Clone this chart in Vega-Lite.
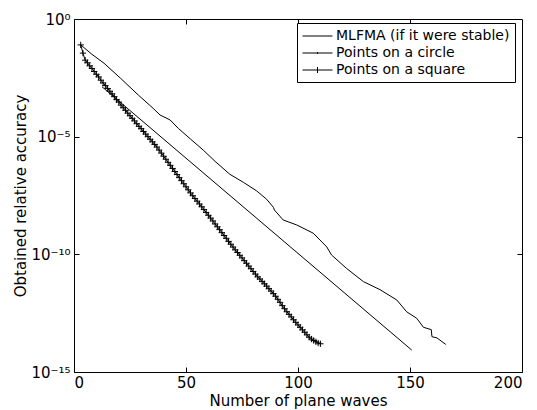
{
  "$schema": "https://vega.github.io/schema/vega-lite/v6.json",
  "width": 448,
  "height": 353,
  "autosize": {"type": "none"},
  "padding": {"left": 74, "top": 19, "right": 15, "bottom": 38},
  "background": "white",
  "config": {
    "view": {"stroke": "black", "strokeWidth": 1},
    "font": "DejaVu Sans",
    "axis": {
      "domain": false,
      "grid": false,
      "tickColor": "black",
      "tickWidth": 1,
      "labelColor": "black",
      "labelFont": "DejaVu Sans",
      "labelFontSize": 15,
      "titleFont": "DejaVu Sans",
      "titleFontSize": 15,
      "titleFontWeight": "normal",
      "titleColor": "black"
    },
    "legend": {
      "orient": "none",
      "legendX": 223,
      "legendY": 4,
      "strokeColor": "black",
      "fillColor": "white",
      "padding": 5,
      "cornerRadius": 0,
      "labelFont": "DejaVu Sans",
      "labelFontSize": 14,
      "labelColor": "black",
      "labelLimit": 400,
      "symbolSize": 225,
      "symbolStrokeColor": "black",
      "symbolStrokeWidth": 1,
      "symbolFillColor": "transparent",
      "symbolOpacity": 1,
      "labelOffset": 18,
      "rowPadding": 2
    }
  },
  "data": {
    "values": [
      {"series": "MLFMA (if it were stable)", "waves": 12.5, "accuracy": 1.32e-3},
      {"series": "MLFMA (if it were stable)", "waves": 150.8, "accuracy": 8.51e-15},

      {"series": "Points on a circle", "waves": 3, "accuracy": 7.94e-2},
      {"series": "Points on a circle", "waves": 8, "accuracy": 3.16e-2},
      {"series": "Points on a circle", "waves": 13.4, "accuracy": 1.32e-2},
      {"series": "Points on a circle", "waves": 20.8, "accuracy": 3.02e-3},
      {"series": "Points on a circle", "waves": 28.7, "accuracy": 5.89e-4},
      {"series": "Points on a circle", "waves": 35.4, "accuracy": 1.58e-4},
      {"series": "Points on a circle", "waves": 38.4, "accuracy": 8.32e-5},
      {"series": "Points on a circle", "waves": 42.9, "accuracy": 5.13e-5},
      {"series": "Points on a circle", "waves": 46.6, "accuracy": 2.24e-5},
      {"series": "Points on a circle", "waves": 52, "accuracy": 7.94e-6},
      {"series": "Points on a circle", "waves": 57.7, "accuracy": 2.69e-6},
      {"series": "Points on a circle", "waves": 63, "accuracy": 8.91e-7},
      {"series": "Points on a circle", "waves": 69.6, "accuracy": 2.51e-7},
      {"series": "Points on a circle", "waves": 75.6, "accuracy": 1.15e-7},
      {"series": "Points on a circle", "waves": 81.5, "accuracy": 5.01e-8},
      {"series": "Points on a circle", "waves": 86, "accuracy": 2.19e-8},
      {"series": "Points on a circle", "waves": 89, "accuracy": 1e-8},
      {"series": "Points on a circle", "waves": 89.5, "accuracy": 7.59e-9},
      {"series": "Points on a circle", "waves": 93.4, "accuracy": 2.88e-9},
      {"series": "Points on a circle", "waves": 99.4, "accuracy": 1.78e-9},
      {"series": "Points on a circle", "waves": 106.8, "accuracy": 7.94e-10},
      {"series": "Points on a circle", "waves": 112.8, "accuracy": 2.09e-10},
      {"series": "Points on a circle", "waves": 115, "accuracy": 9.33e-11},
      {"series": "Points on a circle", "waves": 121.7, "accuracy": 2.51e-11},
      {"series": "Points on a circle", "waves": 129.2, "accuracy": 6.92e-12},
      {"series": "Points on a circle", "waves": 136.6, "accuracy": 3.16e-12},
      {"series": "Points on a circle", "waves": 144.1, "accuracy": 1.15e-12},
      {"series": "Points on a circle", "waves": 148.5, "accuracy": 3.63e-13},
      {"series": "Points on a circle", "waves": 153, "accuracy": 1.91e-13},
      {"series": "Points on a circle", "waves": 156, "accuracy": 7.94e-14},
      {"series": "Points on a circle", "waves": 159.5, "accuracy": 6.31e-14},
      {"series": "Points on a circle", "waves": 159.8, "accuracy": 3.16e-14},
      {"series": "Points on a circle", "waves": 162, "accuracy": 2.82e-14},
      {"series": "Points on a circle", "waves": 166, "accuracy": 1.48e-14},

      {"series": "Points on a square", "waves": 3, "accuracy": 7.94e-2},
      {"series": "Points on a square", "waves": 4, "accuracy": 3.55e-2},
      {"series": "Points on a square", "waves": 5, "accuracy": 1.78e-2},
      {"series": "Points on a square", "waves": 6, "accuracy": 1.38e-2},
      {"series": "Points on a square", "waves": 7, "accuracy": 1.02e-2},
      {"series": "Points on a square", "waves": 8, "accuracy": 7.94e-3},
      {"series": "Points on a square", "waves": 9, "accuracy": 5.89e-3},
      {"series": "Points on a square", "waves": 10, "accuracy": 4.47e-3},
      {"series": "Points on a square", "waves": 11, "accuracy": 3.47e-3},
      {"series": "Points on a square", "waves": 12, "accuracy": 2.51e-3},
      {"series": "Points on a square", "waves": 13, "accuracy": 1.91e-3},
      {"series": "Points on a square", "waves": 14, "accuracy": 1.48e-3},
      {"series": "Points on a square", "waves": 15, "accuracy": 1.12e-3},
      {"series": "Points on a square", "waves": 16, "accuracy": 8.51e-4},
      {"series": "Points on a square", "waves": 17, "accuracy": 6.61e-4},
      {"series": "Points on a square", "waves": 18, "accuracy": 5.01e-4},
      {"series": "Points on a square", "waves": 19, "accuracy": 3.72e-4},
      {"series": "Points on a square", "waves": 20, "accuracy": 2.95e-4},
      {"series": "Points on a square", "waves": 21, "accuracy": 2.19e-4},
      {"series": "Points on a square", "waves": 22, "accuracy": 1.70e-4},
      {"series": "Points on a square", "waves": 23, "accuracy": 1.32e-4},
      {"series": "Points on a square", "waves": 24, "accuracy": 1.0e-4},
      {"series": "Points on a square", "waves": 25, "accuracy": 7.76e-5},
      {"series": "Points on a square", "waves": 26, "accuracy": 6.03e-5},
      {"series": "Points on a square", "waves": 27, "accuracy": 4.68e-5},
      {"series": "Points on a square", "waves": 28, "accuracy": 3.55e-5},
      {"series": "Points on a square", "waves": 29, "accuracy": 2.75e-5},
      {"series": "Points on a square", "waves": 30, "accuracy": 2.19e-5},
      {"series": "Points on a square", "waves": 31, "accuracy": 1.66e-5},
      {"series": "Points on a square", "waves": 32, "accuracy": 1.29e-5},
      {"series": "Points on a square", "waves": 33, "accuracy": 1.0e-5},
      {"series": "Points on a square", "waves": 34, "accuracy": 7.76e-6},
      {"series": "Points on a square", "waves": 35, "accuracy": 6.03e-6},
      {"series": "Points on a square", "waves": 36, "accuracy": 4.68e-6},
      {"series": "Points on a square", "waves": 37, "accuracy": 3.63e-6},
      {"series": "Points on a square", "waves": 38, "accuracy": 2.69e-6},
      {"series": "Points on a square", "waves": 39, "accuracy": 2.0e-6},
      {"series": "Points on a square", "waves": 40, "accuracy": 1.48e-6},
      {"series": "Points on a square", "waves": 41, "accuracy": 1.10e-6},
      {"series": "Points on a square", "waves": 42, "accuracy": 8.13e-7},
      {"series": "Points on a square", "waves": 43, "accuracy": 6.03e-7},
      {"series": "Points on a square", "waves": 44, "accuracy": 4.47e-7},
      {"series": "Points on a square", "waves": 45, "accuracy": 3.31e-7},
      {"series": "Points on a square", "waves": 46, "accuracy": 2.45e-7},
      {"series": "Points on a square", "waves": 47, "accuracy": 1.82e-7},
      {"series": "Points on a square", "waves": 48, "accuracy": 1.35e-7},
      {"series": "Points on a square", "waves": 49, "accuracy": 1.0e-7},
      {"series": "Points on a square", "waves": 50, "accuracy": 7.41e-8},
      {"series": "Points on a square", "waves": 51, "accuracy": 5.50e-8},
      {"series": "Points on a square", "waves": 52, "accuracy": 4.07e-8},
      {"series": "Points on a square", "waves": 53, "accuracy": 3.09e-8},
      {"series": "Points on a square", "waves": 54, "accuracy": 2.34e-8},
      {"series": "Points on a square", "waves": 55, "accuracy": 1.82e-8},
      {"series": "Points on a square", "waves": 56, "accuracy": 1.38e-8},
      {"series": "Points on a square", "waves": 57, "accuracy": 1.05e-8},
      {"series": "Points on a square", "waves": 58, "accuracy": 7.94e-9},
      {"series": "Points on a square", "waves": 59, "accuracy": 6.03e-9},
      {"series": "Points on a square", "waves": 60, "accuracy": 4.57e-9},
      {"series": "Points on a square", "waves": 61, "accuracy": 3.47e-9},
      {"series": "Points on a square", "waves": 62, "accuracy": 2.63e-9},
      {"series": "Points on a square", "waves": 63, "accuracy": 1.95e-9},
      {"series": "Points on a square", "waves": 64, "accuracy": 1.48e-9},
      {"series": "Points on a square", "waves": 65, "accuracy": 1.12e-9},
      {"series": "Points on a square", "waves": 66, "accuracy": 8.32e-10},
      {"series": "Points on a square", "waves": 67, "accuracy": 6.31e-10},
      {"series": "Points on a square", "waves": 68, "accuracy": 4.79e-10},
      {"series": "Points on a square", "waves": 69, "accuracy": 3.55e-10},
      {"series": "Points on a square", "waves": 70, "accuracy": 2.69e-10},
      {"series": "Points on a square", "waves": 71, "accuracy": 2.04e-10},
      {"series": "Points on a square", "waves": 72, "accuracy": 1.55e-10},
      {"series": "Points on a square", "waves": 73, "accuracy": 1.20e-10},
      {"series": "Points on a square", "waves": 74, "accuracy": 9.12e-11},
      {"series": "Points on a square", "waves": 75, "accuracy": 7.08e-11},
      {"series": "Points on a square", "waves": 76, "accuracy": 5.37e-11},
      {"series": "Points on a square", "waves": 77, "accuracy": 4.17e-11},
      {"series": "Points on a square", "waves": 78, "accuracy": 3.16e-11},
      {"series": "Points on a square", "waves": 79, "accuracy": 2.45e-11},
      {"series": "Points on a square", "waves": 80, "accuracy": 1.86e-11},
      {"series": "Points on a square", "waves": 81, "accuracy": 1.45e-11},
      {"series": "Points on a square", "waves": 82, "accuracy": 1.10e-11},
      {"series": "Points on a square", "waves": 83, "accuracy": 8.91e-12},
      {"series": "Points on a square", "waves": 84, "accuracy": 7.08e-12},
      {"series": "Points on a square", "waves": 85, "accuracy": 5.62e-12},
      {"series": "Points on a square", "waves": 86, "accuracy": 4.47e-12},
      {"series": "Points on a square", "waves": 87, "accuracy": 3.47e-12},
      {"series": "Points on a square", "waves": 88, "accuracy": 2.75e-12},
      {"series": "Points on a square", "waves": 89, "accuracy": 2.14e-12},
      {"series": "Points on a square", "waves": 90, "accuracy": 1.66e-12},
      {"series": "Points on a square", "waves": 91, "accuracy": 1.23e-12},
      {"series": "Points on a square", "waves": 92, "accuracy": 9.12e-13},
      {"series": "Points on a square", "waves": 93, "accuracy": 6.61e-13},
      {"series": "Points on a square", "waves": 94, "accuracy": 4.90e-13},
      {"series": "Points on a square", "waves": 95, "accuracy": 3.63e-13},
      {"series": "Points on a square", "waves": 96, "accuracy": 2.82e-13},
      {"series": "Points on a square", "waves": 97, "accuracy": 2.19e-13},
      {"series": "Points on a square", "waves": 98, "accuracy": 1.66e-13},
      {"series": "Points on a square", "waves": 99, "accuracy": 1.29e-13},
      {"series": "Points on a square", "waves": 100, "accuracy": 1.0e-13},
      {"series": "Points on a square", "waves": 101, "accuracy": 7.94e-14},
      {"series": "Points on a square", "waves": 102, "accuracy": 6.17e-14},
      {"series": "Points on a square", "waves": 103, "accuracy": 4.90e-14},
      {"series": "Points on a square", "waves": 104, "accuracy": 3.80e-14},
      {"series": "Points on a square", "waves": 105, "accuracy": 3.02e-14},
      {"series": "Points on a square", "waves": 106, "accuracy": 2.51e-14},
      {"series": "Points on a square", "waves": 107, "accuracy": 2.19e-14},
      {"series": "Points on a square", "waves": 108, "accuracy": 1.91e-14},
      {"series": "Points on a square", "waves": 109, "accuracy": 1.70e-14},
      {"series": "Points on a square", "waves": 110, "accuracy": 1.58e-14}
    ]
  },
  "resolve": {"axis": {"x": "independent", "y": "independent"}},
  "layer": [
    {
      "mark": {"type": "line", "color": "black", "strokeWidth": 1},
      "encoding": {
        "x": {
          "field": "waves", "type": "quantitative",
          "scale": {"domain": [0, 200], "nice": false},
          "axis": {"orient": "bottom", "values": [0, 50, 100, 150, 200], "tickSize": -5, "labelPadding": 8, "title": "Number of plane waves", "titlePadding": 3}
        },
        "y": {
          "field": "accuracy", "type": "quantitative",
          "scale": {"type": "log", "domain": [1e-15, 1], "nice": false},
          "axis": {
            "orient": "left", "values": [1, 1e-5, 1e-10, 1e-15], "tickSize": -5, "labelPadding": 9,
            "labelExpr": "datum.value > 0.5 ? '10⁰' : datum.value > 1e-6 ? '10⁻⁵' : datum.value > 1e-11 ? '10⁻¹⁰' : '10⁻¹⁵'",
            "title": "Obtained relative accuracy", "titlePadding": 2
          }
        },
        "detail": {"field": "series"}
      }
    },
    {
      "transform": [{"filter": "datum.series == 'Points on a square'"}],
      "mark": {"type": "point", "shape": "M-1,0H1M0,-1V1", "filled": false, "color": "black", "size": 40, "strokeWidth": 1, "opacity": 1},
      "encoding": {
        "x": {"field": "waves", "type": "quantitative", "axis": null},
        "y": {"field": "accuracy", "type": "quantitative", "scale": {"type": "log"}, "axis": null}
      }
    },
    {
      "mark": {"type": "point", "filled": false, "color": "black", "opacity": 0},
      "encoding": {
        "x": {
          "field": "waves", "type": "quantitative",
          "axis": {"orient": "top", "values": [50, 100, 150], "tickSize": -5, "labels": false, "title": null}
        },
        "y": {
          "field": "accuracy", "type": "quantitative", "scale": {"type": "log"},
          "axis": {"orient": "right", "values": [1e-5, 1e-10], "tickSize": -5, "labels": false, "title": null}
        },
        "shape": {
          "field": "series", "type": "nominal",
          "scale": {
            "domain": ["MLFMA (if it were stable)", "Points on a circle", "Points on a square"],
            "range": ["M-1,0H3", "M-1,0H3M1,-0.12V0.12", "M-1,0H3M1,-0.4V0.4"]
          },
          "legend": {
            "title": null,
            "symbolOpacity": 1,
            "encode": {"symbols": {"update": {"opacity": {"value": 1}, "stroke": {"value": "black"}, "fill": {"value": "transparent"}}}}
          }
        }
      }
    }
  ]
}
